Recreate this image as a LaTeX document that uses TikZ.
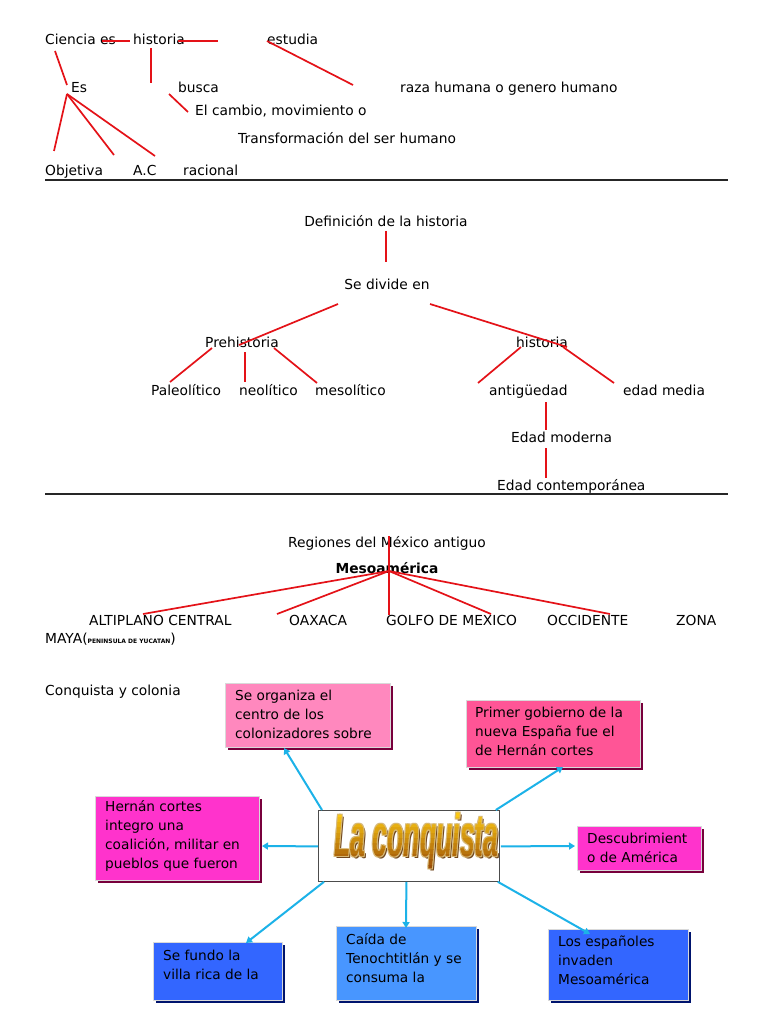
\documentclass[tikz,border=0pt]{standalone}
\usepackage{fontspec}
\usepackage{graphicx}
\setmainfont{DejaVu Sans}
\newfontfamily\wordart{Liberation Sans}
\usetikzlibrary{arrows.meta,calc,shadows}
\definecolor{lnred}{RGB}{228,18,24}
\definecolor{arrcyan}{RGB}{28,178,232}
\definecolor{pinkA}{RGB}{255,136,190}
\definecolor{pinkB}{RGB}{255,85,150}
\definecolor{magA}{RGB}{255,51,204}
\definecolor{blueA}{RGB}{51,102,255}
\definecolor{blueB}{RGB}{72,150,255}
\definecolor{shpink}{RGB}{120,0,60}
\definecolor{shblue}{RGB}{0,20,110}
\definecolor{goldW}{RGB}{250,200,20}
\definecolor{brownW}{RGB}{125,40,5}
\definecolor{tanW}{RGB}{215,185,120}
\definecolor{brownS}{RGB}{110,70,30}
\newcommand{\laconq}{\wordart\bfseries\itshape\fontsize{60}{60}\selectfont\scalebox{0.443}[1]{La conquista}}

\begin{document}
\begin{tikzpicture}[x=1pt,y=-1pt,
  every node/.style={inner sep=0pt, font=\fontsize{13.8}{16}\selectfont},
  one/.style={text height=12pt, text depth=1pt},
  txt/.style={anchor=west, one},
  rl/.style={draw=lnred, line width=1.7pt},
  hrule/.style={draw=black!85, line width=2pt},
  arr/.style={draw=arrcyan, line width=2pt, -{Triangle[length=6pt,width=7pt]}},
  bx/.style={rectangle, anchor=north west, draw=white!85!black, line width=0.3pt,
    drop shadow={shadow xshift=3pt, shadow yshift=-3pt, opacity=1, fill=#1}},
  bt/.style={anchor=north west, align=left, font=\fontsize{13.7}{19}\selectfont}
]
\useasboundingbox[fill=white] (0,0) rectangle (768,1024);

% ---------- Section 1 ----------
\node[txt] (cien) at (45,39) {Ciencia es};
\node[txt] (hist) at (133,39) {historia};
\node[txt] (estu) at (267,39) {estudia};
\node[txt] (es) at (71,87) {Es};
\node[txt] (busca) at (178,87) {busca};
\node[txt] (raza) at (400,87) {raza humana o genero humano};
\node[txt] (camb) at (195,110) {El cambio, movimiento o};
\node[txt] (trans) at (238,138) {Transformación del ser humano};
\node[txt] (obj) at (45,170) {Objetiva};
\node[txt] (ac) at (133,170) {A.C};
\node[txt] (rac) at (183,170) {racional};

\coordinate (a1) at (102,41); \coordinate (a2) at (130,41);
\coordinate (a3) at (178,41); \coordinate (a4) at (218,41);
\coordinate (a5) at (267,41); \coordinate (a6) at (353,85);
\coordinate (a7) at (55,51);  \coordinate (a8) at (67,85);
\coordinate (a9) at (151,48); \coordinate (a10) at (151,83);
\coordinate (a11) at (169,94); \coordinate (a12) at (188,112);
\coordinate (esb) at (67,94);
\coordinate (a13) at (54,151); \coordinate (a14) at (114,155); \coordinate (a15) at (155,156);
\draw[rl] (a1) -- (a2);
\draw[rl] (a3) -- (a4);
\draw[rl] (a5) -- (a6);
\draw[rl] (a7) -- (a8);
\draw[rl] (a9) -- (a10);
\draw[rl] (a11) -- (a12);
\draw[rl] (esb) -- (a13);
\draw[rl] (esb) -- (a14);
\draw[rl] (esb) -- (a15);

\coordinate (r1a) at (45,180); \coordinate (r1b) at (728,180);
\draw[hrule] (r1a) -- (r1b);

% ---------- Section 2 ----------
\node[one] (def) at (386,221) {Definición de la historia};
\node[one] (sdiv) at (387,284) {Se divide en};
\node[one] (pre) at (242,342) {Prehistoria};
\node[one] (hist2) at (542,342) {historia};
\node[txt] (pal) at (151,390) {Paleolítico};
\node[txt] (neo) at (239,390) {neolítico};
\node[txt] (meso) at (315,390) {mesolítico};
\node[txt] (anti) at (489,390) {antigüedad};
\node[txt] (media) at (623,390) {edad media};
\node[txt] (emod) at (511,437) {Edad moderna};
\node[txt] (econ) at (497,485) {Edad contemporánea};

\coordinate (b1a) at (386,231); \coordinate (b1b) at (386,262);
\coordinate (b2a) at (338,304); \coordinate (b2b) at (239,345);
\coordinate (b3a) at (430,304); \coordinate (b3b) at (567,347);
\coordinate (b4a) at (212,348); \coordinate (b4b) at (170,382);
\coordinate (b5a) at (245,352); \coordinate (b5b) at (245,382);
\coordinate (b6a) at (274,348); \coordinate (b6b) at (317,383);
\coordinate (b7a) at (521,347); \coordinate (b7b) at (478,383);
\coordinate (b8a) at (563,347); \coordinate (b8b) at (614,383);
\coordinate (b9a) at (546,402); \coordinate (b9b) at (546,430);
\coordinate (b10a) at (546,448); \coordinate (b10b) at (546,478);
\draw[rl] (b1a) -- (b1b);
\draw[rl] (b2a) -- (b2b);
\draw[rl] (b3a) -- (b3b);
\draw[rl] (b4a) -- (b4b);
\draw[rl] (b5a) -- (b5b);
\draw[rl] (b6a) -- (b6b);
\draw[rl] (b7a) -- (b7b);
\draw[rl] (b8a) -- (b8b);
\draw[rl] (b9a) -- (b9b);
\draw[rl] (b10a) -- (b10b);

\coordinate (r2a) at (45,494); \coordinate (r2b) at (728,494);
\draw[hrule] (r2a) -- (r2b);

% ---------- Section 3 ----------
\node[one] (reg) at (387,542) {Regiones del México antiguo};
\node[one, font=\fontsize{13.8}{16}\selectfont\bfseries] (mesoa) at (387,568) {Mesoamérica};
\node[txt] (alt) at (89,620) {ALTIPLANO CENTRAL};
\node[txt] (oax) at (289,620) {OAXACA};
\node[txt] (gol) at (386,620) {GOLFO DE MEXICO};
\node[txt] (occ) at (547,620) {OCCIDENTE};
\node[txt] (zona) at (676,620) {ZONA};
\node[txt] (maya) at (45,638) {MAYA({\fontsize{6}{7}\selectfont\bfseries PENINSULA DE YUCATAN})};

\coordinate (hub) at (389,571);
\coordinate (c0a) at (389,536); \coordinate (c0b) at (389,615);
\coordinate (c1) at (143,614); \coordinate (c2) at (277,614);
\coordinate (c3) at (491,614); \coordinate (c4) at (610,614);
\draw[rl] (c0a) -- (c0b);
\draw[rl] (hub) -- (c1);
\draw[rl] (hub) -- (c2);
\draw[rl] (hub) -- (c3);
\draw[rl] (hub) -- (c4);

% ---------- Section 4 ----------
\node[txt] (cyc) at (45,690) {Conquista y colonia};

\node[bx=shpink, fill=pinkA, minimum width=165pt, minimum height=64pt] (k1) at (225,683) {};
\node[bt] (k1t) at ($(k1.north west)+(10,7)$) {Se organiza el\\centro de los\\colonizadores sobre};

\node[bx=shpink, fill=pinkB, minimum width=174pt, minimum height=67pt] (k2) at (466,700) {};
\node[bt] (k2t) at ($(k2.north west)+(9,7)$) {Primer gobierno de la\\nueva España fue el\\de Hernán cortes};

\node[bx=shpink, fill=magA, minimum width=164pt, minimum height=84pt] (k3) at (95,796) {};
\node[bt] (k3t) at ($(k3.north west)+(10,4)$) {Hernán cortes\\integro una\\coalición, militar en\\pueblos que fueron};

\node[bx=shpink, fill=magA, minimum width=124pt, minimum height=44pt] (k4) at (577,826) {};
\node[bt] (k4t) at ($(k4.north west)+(10,7)$) {Descubrimient\\o de América};

\node[bx=shblue, fill=blueA, minimum width=129pt, minimum height=58pt] (k5) at (153,942) {};
\node[bt] (k5t) at ($(k5.north west)+(10,8)$) {Se fundo la\\villa rica de la};

\node[bx=shblue, fill=blueB, minimum width=140pt, minimum height=74pt] (k6) at (336,926) {};
\node[bt] (k6t) at ($(k6.north west)+(10,7)$) {Caída de\\Tenochtitlán y se\\consuma la};

\node[bx=shblue, fill=blueA, minimum width=140pt, minimum height=71pt] (k7) at (548,929) {};
\node[bt] (k7t) at ($(k7.north west)+(10,7)$) {Los españoles\\invaden\\Mesoamérica};

% center box
\node[rectangle, anchor=north west, draw=black!70, line width=0.8pt, fill=white,
      minimum width=181pt, minimum height=71pt] (ctr) at (318,810) {};
% word art: shadow, outline, gradient bands
\node[text=brownS] (wsh) at (418.5,843) {\laconq};
\foreach \dx/\dy [count=\k] in {-1/-1,1/-1,-1/1,1/1} {
  \node[text=tanW] (wo\k) at (416.5+\dx,841+\dy) {\laconq};
}
\foreach \i in {0,...,13} {
  \pgfmathsetmacro{\ya}{812+\i*5.3}
  \pgfmathsetmacro{\yb}{\ya+5.6}
  \pgfmathsetmacro{\pc}{100-\i*7.5}
  \begin{scope}
    \clip (320,\ya) rectangle (515,\yb);
    \node[text=goldW!\pc!brownW] (wg\i) at (416.5,841) {\laconq};
  \end{scope}
}

% arrows
\coordinate (t1) at (284,748);
\coordinate (t2) at (563,767);
\coordinate (t3) at (262,846);
\coordinate (t4) at (575,846);
\coordinate (t5) at (246,943);
\coordinate (t6) at (406,928);
\coordinate (t7) at (590,934);
\draw[arr] ($(ctr.north west)+(4,0)$) -- (t1);
\draw[arr] ($(ctr.north east)+(-4,0)$) -- (t2);
\draw[arr] ($(ctr.west)+(0,0.5)$) -- (t3);
\draw[arr] ($(ctr.east)+(1,0.5)$) -- (t4);
\draw[arr] ($(ctr.south west)+(6,0)$) -- (t5);
\draw[arr] ($(ctr.south)+(-2.5,0)$) -- (t6);
\draw[arr] ($(ctr.south east)+(-2,0)$) -- (t7);
\end{tikzpicture}
\end{document}
